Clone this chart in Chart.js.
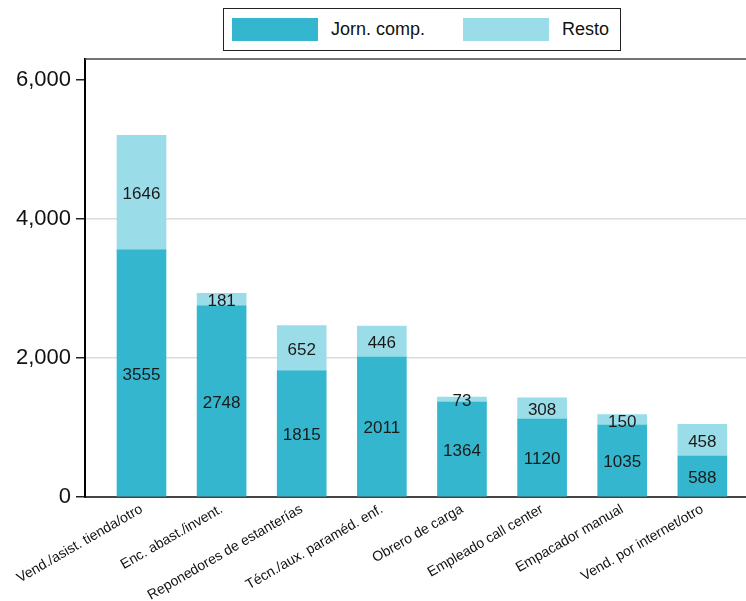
<!DOCTYPE html>
<html>
<head>
<meta charset="utf-8">
<script src="https://cdn.jsdelivr.net/npm/chart.js@4.4.1/dist/chart.umd.min.js"></script>
<style>
  html, body { margin: 0; padding: 0; background: #fff; }
  #wrap { position: relative; width: 746px; height: 601px; font-family: "Liberation Sans", Arial, sans-serif; color: #111; }
  #leyenda { position: absolute; left: 223px; top: 8px; width: 398px; height: 43px; box-sizing: border-box; border: 1.5px solid #222; background: #fff; }
  .caja { position: absolute; top: 9px; width: 86px; height: 23px; }
  .txt { position: absolute; top: 8px; font-size: 18px; line-height: 24px; white-space: nowrap; }
</style>
</head>
<body>
<div id="wrap">
  <canvas id="grafico" width="746" height="601"></canvas>
  <div id="leyenda">
    <div class="caja" style="left:8px;background:#34b6ce"></div>
    <div class="txt" style="left:107px">Jorn. comp.</div>
    <div class="caja" style="left:239px;background:#9adce7"></div>
    <div class="txt" style="left:338px">Resto</div>
  </div>
</div>
<script>
// datos
const categorias = ['Vend./asist. tienda/otro', 'Enc. abast./invent.', 'Reponedores de estanterías', 'Técn./aux. paraméd. enf.',
                    'Obrero de carga', 'Empleado call center', 'Empacador manual', 'Vend. por internet/otro'];
const jornComp = [3555, 2748, 1815, 2011, 1364, 1120, 1035, 588];
const resto = [1646, 181, 652, 446, 73, 308, 150, 458];
const ticksY = [0, 2000, 4000, 6000];

const FUENTE = '"Liberation Sans", Arial, sans-serif';

// etiquetas dentro de cada segmento + marco superior
const extras = {
    id: 'extras',
    afterDatasetsDraw(chart) {
        const ctx = chart.ctx;
        ctx.save();
        ctx.font = '17px ' + FUENTE;
        ctx.fillStyle = '#1a1a1a';
        ctx.textAlign = 'center';
        ctx.textBaseline = 'middle';
        chart.data.datasets.forEach((ds, i) => {
            chart.getDatasetMeta(i).data.forEach((el, j) => {
                ctx.fillText(String(ds.data[j].y), el.x, (el.y + el.base) / 2 + 2);
            });
        });
        const a = chart.chartArea;
        ctx.strokeStyle = '#444';
        ctx.lineWidth = 1.5;
        ctx.beginPath();
        ctx.moveTo(a.left, a.top);
        ctx.lineTo(a.right, a.top);
        ctx.stroke();
        ctx.restore();
    }
};

new Chart(document.getElementById('grafico'), {
    type: 'bar',
    data: {
        datasets: [
            { label: 'Jorn. comp.', data: jornComp.map((v, i) => ({ x: i, y: v })), backgroundColor: '#34b6ce', barThickness: 49 },
            { label: 'Resto', data: resto.map((v, i) => ({ x: i, y: v })), backgroundColor: '#9adce7', barThickness: 49 }
        ]
    },
    options: {
        responsive: false,
        animation: false,
        devicePixelRatio: 1,
        layout: { padding: { top: 59, left: 0, right: 0, bottom: 0 } },
        plugins: { legend: { display: false }, tooltip: { enabled: false } },
        scales: {
            x: {
                type: 'linear',
                stacked: true,
                offset: false,
                min: -0.705,
                max: 7.545,
                afterBuildTicks: s => { s.ticks = categorias.map((c, i) => ({ value: i })); },
                afterFit: s => { s.height = 104; },
                grid: { color: 'transparent', drawTicks: false, tickLength: 0, offset: false },
                border: { color: '#444', width: 2 },
                ticks: {
                    autoSkip: false,
                    maxRotation: 30,
                    minRotation: 30,
                    padding: 4,
                    color: '#111',
                    font: { family: FUENTE, size: 14 },
                    callback: v => categorias[v]
                }
            },
            y: {
                stacked: true,
                min: 0,
                max: 6300,
                afterBuildTicks: s => { s.ticks = ticksY.map(v => ({ value: v })); },
                afterFit: s => { s.width = 85; },
                grid: {
                    color: c => (c.tick && (c.tick.value === 2000 || c.tick.value === 4000)) ? '#dcdcdc' : 'transparent',
                    lineWidth: 1.5,
                    tickColor: '#222',
                    tickLength: 9
                },
                border: { color: '#000', width: 2 },
                ticks: {
                    padding: 5,
                    color: '#111',
                    font: { family: FUENTE, size: 22 },
                    callback: v => v.toLocaleString('en-US')
                }
            }
        }
    },
    plugins: [extras]
});
</script>
</body>
</html>
